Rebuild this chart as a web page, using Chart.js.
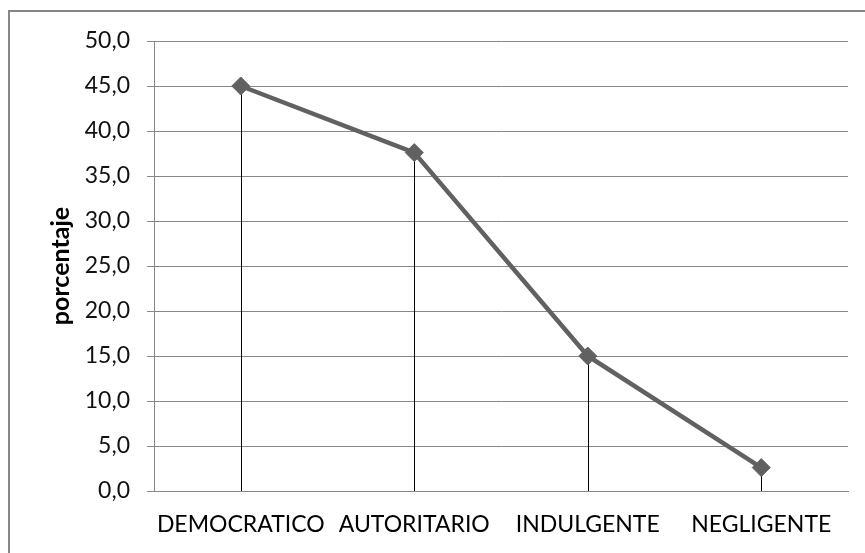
<!DOCTYPE html>
<html>
<head>
<meta charset="utf-8">
<script src="https://cdn.jsdelivr.net/npm/chart.js@4"></script>
<style>
  html, body { margin: 0; padding: 0; background: #fff; overflow: hidden; }
  #frame { position: absolute; left: 8px; top: 10px; width: 900px; height: 600px; border: 2px solid #868686; }
  #wrap { position: absolute; left: 0; top: 0; width: 865px; height: 553px; }
</style>
</head>
<body>
<div id="frame"></div>
<div id="wrap"><canvas id="chart" width="865" height="553"></canvas></div>
<script>
const categories = ["DEMOCRATICO", "AUTORITARIO", "INDULGENTE", "NEGLIGENTE"];
const porcentaje = [45.0, 37.6, 15.0, 2.6];
const yTicks = [0, 5, 10, 15, 20, 25, 30, 35, 40, 45, 50];

// thin black drop lines from each point down to the axis
const dropLines = {
  id: "dropLines",
  beforeDatasetsDraw(chart) {
    const meta = chart.getDatasetMeta(0);
    const yScale = chart.scales.y;
    const ctx = chart.ctx;
    ctx.save();
    ctx.strokeStyle = "#000";
    ctx.lineWidth = 1;
    meta.data.forEach((pt) => {
      const x = Math.round(pt.x) + 0.5;
      ctx.beginPath();
      ctx.moveTo(x, pt.y);
      ctx.lineTo(x, yScale.getPixelForValue(0));
      ctx.stroke();
    });
    ctx.restore();
  },
};

const ctx = document.getElementById("chart").getContext("2d");
new Chart(ctx, {
  type: "line",
  data: {
    labels: categories,
    datasets: [
      {
        label: "porcentaje",
        data: porcentaje,
        borderColor: "#616161",
        backgroundColor: "#616161",
        borderWidth: 4.5,
        tension: 0,
        pointStyle: "rectRot",
        pointRadius: 9,
        pointBorderWidth: 1,
      },
    ],
  },
  options: {
    responsive: false,
    animation: false,
    layout: { padding: { top: 41, right: 17, left: 0, bottom: 0 } },
    plugins: { legend: { display: false }, tooltip: { enabled: false } },
    scales: {
      x: {
        offset: true,
        grid: { display: false, drawTicks: false },
        border: { display: true, color: "#888" },
        ticks: {
          color: "#000",
          padding: 20,
          maxRotation: 0,
          autoSkip: false,
          font: { family: "Lato", size: 23 },
        },
        afterFit(scale) { scale.height = 62; },
      },
      y: {
        min: 0,
        max: 50,
        afterBuildTicks(scale) { scale.ticks = yTicks.map((v) => ({ value: v })); },
        grid: { color: "#888", tickLength: 7, drawTicks: true },
        border: { display: true, color: "#888" },
        ticks: {
          color: "#111",
          padding: 17,
          font: { family: "Lato", size: 23 },
          callback: (v) => v.toFixed(1).replace(".", ","),
        },
        title: {
          display: true,
          text: "porcentaje",
          color: "#000",
          font: { family: "Lato", size: 25, weight: "bold" },
          padding: { top: 46 },
        },
        afterFit(scale) { scale.width = 154; },
      },
    },
  },
  plugins: [dropLines],
});
</script>
</body>
</html>
